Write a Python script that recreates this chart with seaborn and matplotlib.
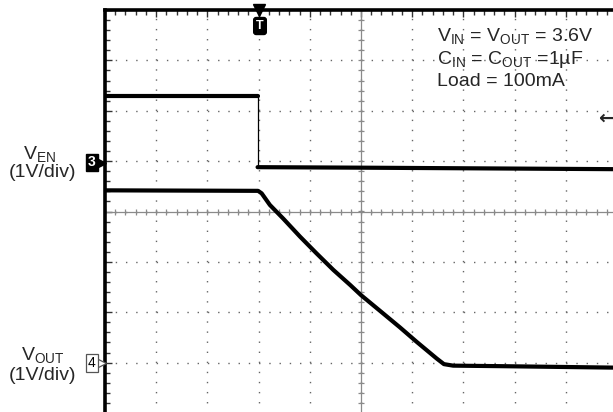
import numpy as np
import pandas as pd
import seaborn as sns
import matplotlib.pyplot as plt
from matplotlib.ticker import MultipleLocator, NullFormatter

# Scope trace values, in divisions (x: time div, y: vertical div)
en_time_before = [-5.0, -2.02]
en_level_before = [2.30, 2.30]
en_time_after = [-2.02, 0.0, 5.0]
en_level_after = [0.88, 0.87, 0.84]

out_time = [-5.0, -2.01, -1.94, -1.78, -1.52, -1.19, -0.87, -0.54, -0.21, 0.0,
            0.44, 0.76, 1.09, 1.48, 1.62, 1.80, 2.71, 5.0]
out_level = [0.42, 0.41, 0.36, 0.13, -0.14, -0.50, -0.83, -1.16, -1.46, -1.66,
             -2.03, -2.30, -2.59, -2.92, -3.03, -3.06, -3.07, -3.10]

trig_time = -2.0
trig_level = 1.88
ch3_ground = 1.0
ch4_ground = -3.0

conditions = [r"$\mathregular{V_{IN}}$ = $\mathregular{V_{OUT}}$ = 3.6V",
              r"$\mathregular{C_{IN}}$ = $\mathregular{C_{OUT}}$ =1µF",
              "Load = 100mA"]

W, H = 613, 412


def fx(px):
    return px / W


def fy(py):
    return 1 - py / H


def main():
    sns.set_theme(style="white")
    plt.rcParams["font.family"] = ["Liberation Sans", "DejaVu Sans"]
    plt.rcParams["mathtext.fontset"] = "custom"
    plt.rcParams["mathtext.rm"] = "Liberation Sans"

    fig = plt.figure(figsize=(W / 100, H / 100), dpi=100)
    ax = fig.add_axes([fx(105), 1 - 413 / H, 512 / W, 403 / H])
    ax.set_xlim(-5, 5)
    ax.set_ylim(-4, 4)

    # Graticule: dotted major lines, solid centre cross with small ticks
    ax.grid(True, axis="x", which="major", color="#666666", linewidth=1.0,
            linestyle=(0, (1, 6.26)))
    ax.grid(True, axis="y", which="major", color="#666666", linewidth=1.0,
            linestyle=(0, (1, 6.37)))
    ax.axhline(0, color="#8a8a8a", linewidth=0.9, zorder=1)
    ax.axvline(0, color="#8a8a8a", linewidth=0.9, zorder=1)
    fine = np.arange(-5, 5.01, 0.2)
    ax.plot(fine, np.zeros_like(fine), linestyle="none", marker="|",
            markersize=5, color="#8a8a8a", markeredgewidth=0.9, zorder=1)
    fine_y = np.arange(-4, 4.01, 0.2)
    ax.plot(np.zeros_like(fine_y), fine_y, linestyle="none", marker="_",
            markersize=5, color="#8a8a8a", markeredgewidth=0.9, zorder=1)

    # Frame: only the top and left edges are visible
    for side in ["right", "bottom"]:
        ax.spines[side].set_visible(False)
    for side in ["left", "top"]:
        ax.spines[side].set_linewidth(2.6)
        ax.spines[side].set_color("black")
    ax.xaxis.set_ticks_position("top")
    ax.yaxis.set_ticks_position("left")
    for axis in [ax.xaxis, ax.yaxis]:
        axis.set_major_locator(MultipleLocator(1))
        axis.set_minor_locator(MultipleLocator(0.2))
        axis.set_major_formatter(NullFormatter())
    ax.tick_params(which="both", direction="in", color="#333333", width=1.0)
    ax.tick_params(which="major", length=5)
    ax.tick_params(which="minor", length=3.5)

    # Traces
    before = pd.DataFrame({"t": en_time_before, "v": en_level_before})
    after = pd.DataFrame({"t": en_time_after, "v": en_level_after})
    vout = pd.DataFrame({"t": out_time, "v": out_level})
    for df in [before, after, vout]:
        sns.lineplot(data=df, x="t", y="v", ax=ax, color="black", linewidth=3.0,
                     estimator=None, sort=False, zorder=3)
    ax.vlines(en_time_after[0], en_level_after[0], en_level_before[-1],
              color="black", linewidth=0.9, zorder=3)
    ax.set_xlabel("")
    ax.set_ylabel("")

    # Trigger marker at the top and trigger level arrow at the right
    ax.plot([trig_time], [4], marker="v", markersize=8, color="black",
            clip_on=False, zorder=5)
    fig.text(fx(260), fy(26), "T", color="white", fontsize=9,
             fontweight="bold", ha="center", va="center",
             bbox=dict(boxstyle="round,pad=0.2", fc="black", ec="black"))
    fig.text(fx(606), fy(118), "←", fontsize=14, ha="center", va="center",
             family="DejaVu Sans", fontweight="bold")

    # Channel ground markers (box plus pointer just left of the frame)
    fig.add_artist(plt.Line2D([fx(99.5)], [fy(162.5)], marker=">",
                              markersize=8, color="black"))
    fig.text(fx(92), fy(162.5), "3", color="white", fontsize=10,
             fontweight="bold", ha="center", va="center",
             bbox=dict(boxstyle="square,pad=0.12", fc="black", ec="black"))
    fig.add_artist(plt.Line2D([fx(99.5)], [fy(363)], marker=">",
                              markersize=8, color="white",
                              markeredgecolor="#555555", markeredgewidth=0.9))
    fig.text(fx(92), fy(363), "4", color="black", fontsize=10,
             ha="center", va="center",
             bbox=dict(boxstyle="square,pad=0.12", fc="white", ec="#555555",
                       lw=0.9))

    # Channel labels
    fig.text(fx(40), fy(154), r"$\mathregular{V_{EN}}$", fontsize=14,
             ha="center", va="center")
    fig.text(fx(43), fy(173), "(1V/div)", fontsize=14, ha="center", va="center")
    fig.text(fx(43), fy(355), r"$\mathregular{V_{OUT}}$", fontsize=14,
             ha="center", va="center")
    fig.text(fx(43), fy(376), "(1V/div)", fontsize=14, ha="center", va="center")

    # Test conditions
    for i, line in enumerate(conditions):
        fig.text(fx(437), fy(36 + 23 * i), line, fontsize=14,
                 ha="left", va="center")

    fig.savefig("out.png", dpi=100)


if __name__ == "__main__":
    main()
